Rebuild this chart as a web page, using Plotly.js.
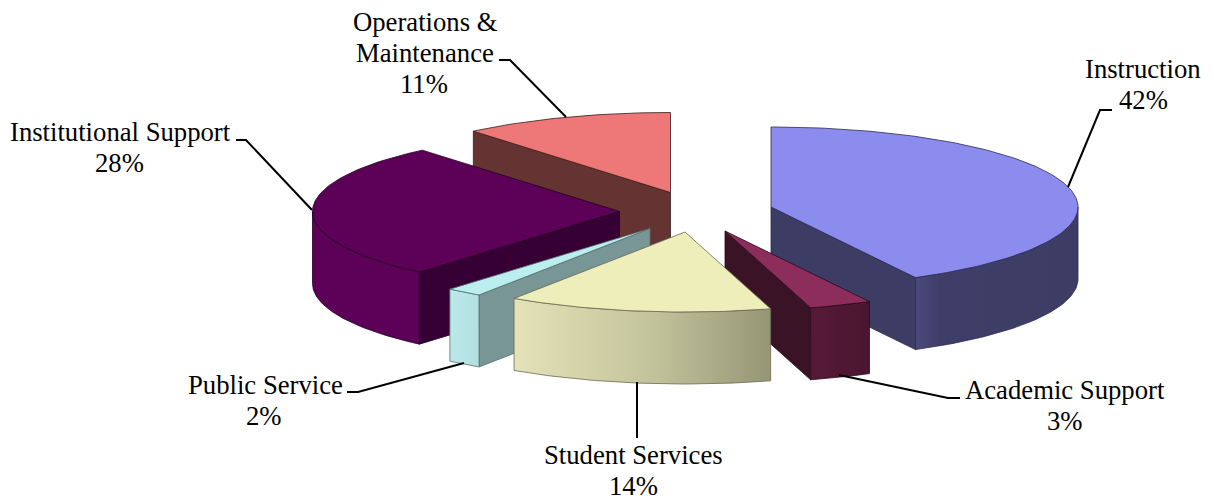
<!DOCTYPE html>
<html>
<head>
<meta charset="utf-8">
<script src="https://cdn.plot.ly/plotly-3.0.1.min.js"></script>
<style>html,body{margin:0;padding:0;background:#fff}#chart{width:1214px;height:500px}</style>
</head>
<body>
<div id="chart"></div>
<script>
// ---- data (share of spending; labels as printed) ----
var categories = ["Instruction", "Academic Support", "Student Services", "Public Service", "Institutional Support", "Operations & Maintenance"];
var values = [42.2, 3.3, 13.9, 1.9, 27.6, 11.1];
var percentLabels = ["42%", "3%", "14%", "2%", "28%", "11%"];

// ---- projection of the tilted pie (pixels) ----
var RX = 307, RY = 80, DEPTH = 72;
var centers = [[771, 207], [725, 231], [685, 232], [650, 228.5], [619.5, 211.5], [670.5, 192.5]];

// ---- styles per slice ----
var topColors = ["#8c8cee", "#8c2d5c", "#eeeebb", "#bbeeee", "#5c0058", "#ee7777"];
var sideColors = ["#3c3c64", "#3a1426", "#808066", "#789696", "#360034", "#663333"];
var wallScales = [
  [[0, "#4a4a7c"], [0.15, "#3e3e68"], [1, "#3c3c64"]],
  [[0, "#561a38"], [1, "#4a1530"]],
  [[0, "#e3e2b8"], [0.5, "#c6c69e"], [1, "#969676"]],
  [[0, "#bbe8e8"], [1, "#b2e0e0"]],
  [[0, "#5c0058"], [1, "#5c0058"]],
  [[0, "#663333"], [1, "#663333"]]
];
var edgeColors = ["#2a2a50", "#2a0a1a", "#6a6a50", "#567070", "#200020", "#3a1a1a"];
// which radial edge of each slice faces the viewer
var radialFace = ["end", "end", null, "start", "start", "start"];
var paintOrder = [5, 0, 4, 3, 1, 2];

// ---- label text lines: [text, cx, cy] ----
var labelLines = [
  [categories[0], 1143, 69], [percentLabels[0], 1143, 100],
  [categories[1], 1065, 390], [percentLabels[1], 1065, 421],
  [categories[2], 633.5, 455], [percentLabels[2], 633, 486],
  [categories[3], 265, 385], [percentLabels[3], 264, 416],
  [categories[4], 120.5, 132], [percentLabels[4], 119, 163],
  ["Operations &", 425, 22], ["Maintenance", 425, 53], [percentLabels[5], 424, 84]
];
var leaderPaths = [
  "M1068,187 L1100,110 L1112,110",
  "M839,375 L948,398 L960,398",
  "M637,382 L637,438",
  "M464,363 L358,392 L347,392",
  "M312,210 L246,140 L236,140",
  "M566,117 L510,60 L499,60"
];

// ---- build slice geometry from the values ----
var total = values.reduce(function (a, b) { return a + b; }, 0);
function pt(i, deg, drop) {
  var r = deg * Math.PI / 180;
  return [centers[i][0] + RX * Math.sin(r), centers[i][1] - RY * Math.cos(r) + drop];
}
function arc(i, a, b, drop) {
  var out = [], n = Math.max(2, Math.ceil(Math.abs(b - a)));
  for (var k = 0; k <= n; k++) out.push(pt(i, a + (b - a) * k / n, drop));
  return out;
}
function poly(points, fill, edge, gradient) {
  var closed = points.concat([points[0]]);
  var t = {
    type: "scatter", mode: "lines", hoverinfo: "skip", showlegend: false,
    x: closed.map(function (p) { return p[0]; }),
    y: closed.map(function (p) { return p[1]; }),
    fill: "toself", fillcolor: fill,
    line: { color: edge, width: 0.8 }
  };
  if (gradient) t.fillgradient = { type: "horizontal", colorscale: gradient };
  return t;
}
var starts = [], acc = 0;
values.forEach(function (v) { starts.push(acc); acc += v / total * 360; });

var traces = [];
paintOrder.forEach(function (i) {
  var a = starts[i], b = a + values[i] / total * 360;
  var c = centers[i];
  // radial wall
  if (radialFace[i]) {
    var ang = radialFace[i] === "end" ? b : a;
    var p = pt(i, ang, 0), q = pt(i, ang, DEPTH);
    traces.push(poly([[c[0], c[1]], p, q, [c[0], c[1] + DEPTH]], sideColors[i], edgeColors[i]));
  }
  // outer curved wall, only where the rim faces the viewer
  var wa = Math.max(a, 90), wb = Math.min(b, 270);
  if (wb > wa) {
    var upper = arc(i, wa, wb, 0), lower = arc(i, wb, wa, DEPTH);
    traces.push(poly(upper.concat(lower), wallScales[i][0][1], edgeColors[i], wallScales[i]));
  }
  // top face
  traces.push(poly([[c[0], c[1]]].concat(arc(i, a, b, 0)), topColors[i], edgeColors[i]));
});

var annotations = labelLines.map(function (l) {
  return {
    x: l[1], y: l[2], xref: "x", yref: "y", text: l[0], showarrow: false,
    xanchor: "center", yanchor: "middle",
    font: { family: "Liberation Serif, Times New Roman, serif", size: 26.7, color: "#000" }
  };
});
var shapes = leaderPaths.map(function (d) {
  return { type: "path", path: d, xref: "x", yref: "y", line: { color: "#000", width: 2 } };
});

var layout = {
  width: 1214, height: 500,
  margin: { l: 0, r: 0, t: 0, b: 0 },
  paper_bgcolor: "#fff", plot_bgcolor: "#fff",
  xaxis: { range: [0, 1214], visible: false, fixedrange: true },
  yaxis: { range: [500, 0], visible: false, fixedrange: true },
  showlegend: false,
  annotations: annotations, shapes: shapes
};
Plotly.newPlot("chart", traces, layout, { displayModeBar: false, responsive: false });
</script>
</body>
</html>
